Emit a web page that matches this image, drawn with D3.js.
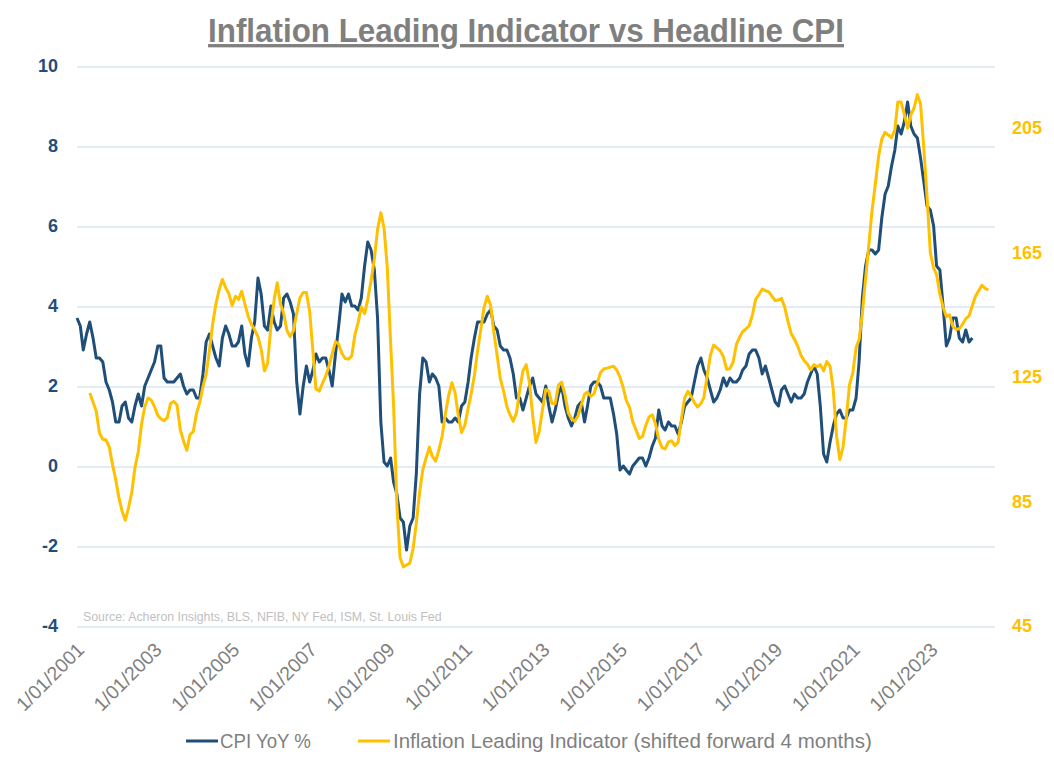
<!DOCTYPE html>
<html><head><meta charset="utf-8">
<script src="https://cdn.jsdelivr.net/npm/d3@7"></script>
<style>body{margin:0;background:#fff} svg{display:block}</style>
</head><body><svg id="c" width="1054" height="769"></svg>
<script>
// ---------- DATA ----------
const cpiStart = "2001-01-01";
const cpiValues = [
3.7,3.5,2.9,3.3,3.6,3.2,2.7,2.7,2.6,2.1,1.9,1.6,
1.1,1.1,1.5,1.6,1.2,1.1,1.5,1.8,1.5,2.0,2.2,2.4,
2.6,3.0,3.0,2.2,2.1,2.1,2.1,2.2,2.3,2.0,1.8,1.9,
1.9,1.7,1.7,2.3,3.1,3.3,3.0,2.7,2.5,3.2,3.5,3.3,
3.0,3.0,3.1,3.5,2.8,2.5,3.2,3.6,4.7,4.3,3.5,3.4,
4.0,3.6,3.4,3.5,4.2,4.3,4.1,3.8,2.1,1.3,2.0,2.5,
2.1,2.4,2.8,2.6,2.7,2.7,2.4,2.0,2.8,3.5,4.3,4.1,
4.3,4.0,4.0,3.9,4.2,5.0,5.6,5.4,4.9,3.7,1.1,0.1,
0.0,0.2,-0.4,-0.7,-1.3,-1.4,-2.1,-1.5,-1.3,-0.2,1.8,2.7,
2.6,2.1,2.3,2.2,2.0,1.1,1.2,1.1,1.1,1.2,1.1,1.5,
1.6,2.1,2.7,3.2,3.6,3.6,3.6,3.8,3.9,3.5,3.4,3.0,
2.9,2.9,2.7,2.3,1.7,1.7,1.4,1.7,2.0,2.2,1.8,1.7,
1.6,2.0,1.5,1.1,1.4,1.8,2.0,1.5,1.2,1.0,1.2,1.5,
1.6,1.1,1.5,2.0,2.1,2.1,2.0,1.7,1.7,1.7,1.3,0.8,
-0.1,0.0,-0.1,-0.2,0.0,0.1,0.2,0.2,0.0,0.2,0.5,0.7,
1.4,1.0,0.9,1.1,1.0,1.0,0.8,1.1,1.5,1.6,1.7,2.1,
2.5,2.7,2.4,2.2,1.9,1.6,1.7,1.9,2.2,2.0,2.2,2.1,
2.1,2.2,2.4,2.5,2.8,2.9,2.9,2.7,2.3,2.5,2.2,1.9,
1.6,1.5,1.9,2.0,1.8,1.6,1.8,1.7,1.7,1.8,2.1,2.3,
2.5,2.3,1.5,0.3,0.1,0.6,1.0,1.3,1.4,1.2,1.2,1.4,
1.4,1.7,2.6,4.2,5.0,5.4,5.4,5.3,5.4,6.2,6.8,7.0,
7.5,7.9,8.5,8.3,8.6,9.1,8.5,8.3,8.2,7.7,7.1,6.5,
6.4,6.0,5.0,4.9,4.0,3.0,3.2,3.7,3.7,3.2,3.1,3.4,
3.1,3.2
];
const leadStart = "2001-05-01";
const leadValues = [
119.9,117,114,107,105,104.8,102.5,97,
92,86,82,79,83,88,96,101,110,115.5,118.3,117.6,
115.5,112.7,111.6,111,112,116.5,117.2,116,108,104.5,101.5,106.5,
107.5,113.5,116.7,122,125.8,133.5,142,148.5,153.2,156.4,153.7,151.8,
148,151,150,152.6,148.5,144.5,142,140.2,138,134,127,129.5,
141.4,150,155.3,148.5,145.5,140,138,140,145.5,150.5,152.2,152.2,
146,133,121.2,120.5,123,125.3,128.5,132.5,136.4,135.6,132.6,131,
130.8,131.8,138.5,142.5,147.6,145.4,150,156,163,172.5,177.8,173,
160,136,116,84,67,64,64.6,65.2,70,78,88,95.2,
99,102.5,99.5,98,101.5,106,113,119,123.2,120,112.5,107.2,
109.5,115,119.5,125.5,133.5,140.5,147.5,151,148,139.5,132,124.5,
120.5,115.5,112.9,110.8,113.5,121,127,129,123,112.5,104,107.5,
114.5,121,120.5,116.5,116.5,122.5,123.4,119.3,113.5,111.7,110.8,112.5,
116,119.5,120.2,118.8,119.6,123,126.5,127.6,127.9,128.2,128.5,127.3,
125,121.5,117.5,115.3,110.6,108,105.3,106,109.5,112.2,112.9,110,
105,102.3,101.9,104.2,104.5,103,104,111.5,118.3,120.4,118.8,116.8,
115.4,116.5,118.5,125.5,132,135.3,134.4,133.5,131.5,127.5,127.7,129.8,
135.5,137.9,139.6,140.5,141.5,145,150,151.5,153.3,152.8,152.4,151,
149.6,149.8,150.3,147.5,143,139,137.2,135,132,130.3,129.1,127.3,
129,128.3,129,127,130,128.5,121,106,98.5,102.5,112,122.6,
126.3,134.5,137,145.5,156.5,167.5,178.5,187,196,201.5,203.7,202.8,
202,204.5,213.4,213.4,209.6,205,209.3,211.5,215.8,212.8,198.5,183,
165,160,158,151.7,147.5,144.4,145,141.3,140.3,140.6,142,143.8,
144.7,148,151,152.8,154.5,153.5,153
];
const leftTicks = [-4,-2,0,2,4,6,8,10];
const rightTicks = [45,85,125,165,205];
const xTickYears = [2001,2003,2005,2007,2009,2011,2013,2015,2017,2019,2021,2023];
const titleText = "Inflation Leading Indicator vs Headline CPI";
const seriesNames = ["CPI YoY %","Inflation Leading Indicator (shifted forward 4 months)"];
const sourceText = "Source: Acheron Insights, BLS, NFIB, NY Fed, ISM, St. Louis Fed";

// ---------- CHART ----------
const NAVY = "#1F4E79", GOLD = "#FFC000", GREY = "#7F7F7F";
const svg = d3.select("#c");
svg.append("rect").attr("width",1054).attr("height",769).attr("fill","#fff");

const L = 77, R = 995, T = 66, B = 626;
const x = d3.scaleTime().domain([new Date(2001,0,1), new Date(2024,8,1)]).range([L,R]);
const yL = d3.scaleLinear().domain([-4,10]).range([B,T]);
const yR = d3.scaleLinear().domain([45,225]).range([B,T]);

const parse = d3.timeParse("%Y-%m-%d");
const cpi = cpiValues.map((v,i)=>({d:d3.timeMonth.offset(parse(cpiStart),i), v}));
const lead = leadValues.map((v,i)=>({d:d3.timeMonth.offset(parse(leadStart),i), v}));

// gridlines (left axis)
const yAxisGrid = d3.axisLeft(yL).tickValues(leftTicks).tickSize(-(R-L)).tickFormat("");
const gGrid = svg.append("g").attr("transform",`translate(${L},0)`).call(yAxisGrid);
gGrid.select(".domain").remove();
gGrid.selectAll("line").attr("stroke","#C5DAEE").attr("stroke-width",1)
  .attr("transform","translate(0,0.5)");

// left axis labels
const gLeft = svg.append("g").attr("transform",`translate(${L},0)`)
  .call(d3.axisLeft(yL).tickValues(leftTicks).tickSize(0).tickPadding(19).tickFormat(d=>String(d)));
gLeft.select(".domain").remove();
gLeft.selectAll("text").attr("fill",NAVY).attr("font-family","Liberation Sans, Arial, sans-serif")
  .attr("font-size",18).attr("font-weight","bold");

// right axis labels
const gRight = svg.append("g").attr("transform",`translate(${R},0)`)
  .call(d3.axisRight(yR).tickValues(rightTicks).tickSize(0).tickPadding(17).tickFormat(d=>String(d)));
gRight.select(".domain").remove();
gRight.selectAll("text").attr("fill",GOLD).attr("font-family","Liberation Sans, Arial, sans-serif")
  .attr("font-size",18).attr("font-weight","bold");

// x axis labels
const fmt = d3.timeFormat("%-m/%d/%Y");
const gX = svg.append("g").attr("transform",`translate(0,${B})`)
  .call(d3.axisBottom(x).tickValues(xTickYears.map(yv=>new Date(yv,0,1))).tickSize(0).tickFormat(fmt));
gX.select(".domain").remove();
gX.selectAll("text")
  .attr("fill",GREY).attr("font-family","Liberation Sans, Arial, sans-serif").attr("font-size",19.5)
  .attr("text-anchor","end").attr("dy",null).attr("y",0)
  .attr("transform","translate(8,25) rotate(-45)");

// source
const src = svg.append("text").text(sourceText).attr("x",0).attr("y",0)
  .attr("fill","#BFBFBF").attr("font-family","Liberation Sans, Arial, sans-serif").attr("font-size",13);
fitW(src, 359, 83, 621, "start");

// lines
const line = (ys)=>d3.line().x(d=>x(d.d)).y(d=>ys(d.v));
svg.append("path").datum(cpi).attr("d",line(yL)).attr("fill","none")
  .attr("stroke",NAVY).attr("stroke-width",3).attr("stroke-linejoin","round");
svg.append("path").datum(lead).attr("d",line(yR)).attr("fill","none")
  .attr("stroke",GOLD).attr("stroke-width",3).attr("stroke-linejoin","round");

// title
const ttl = svg.append("text").text(titleText).attr("fill",GREY)
  .attr("font-family","Liberation Sans Narrow, Arial Narrow, Liberation Sans, Arial, sans-serif")
  .attr("font-size",33).attr("font-weight","bold").style("text-decoration","underline");
fitW(ttl, 636, 526, 42, "middle");

// legend
const legY = 741;
svg.append("line").attr("x1",186).attr("x2",218).attr("y1",legY).attr("y2",legY).attr("stroke",NAVY).attr("stroke-width",3);
svg.append("line").attr("x1",358).attr("x2",390).attr("y1",legY).attr("y2",legY).attr("stroke",GOLD).attr("stroke-width",3);
const lt1 = svg.append("text").text(seriesNames[0]).attr("fill",GREY)
  .attr("font-family","Liberation Sans Narrow, Arial Narrow, Liberation Sans, Arial, sans-serif").attr("font-size",20);
fitW(lt1, 91, 220, legY+7, "start");
const lt2 = svg.append("text").text(seriesNames[1]).attr("fill",GREY)
  .attr("font-family","Liberation Sans Narrow, Arial Narrow, Liberation Sans, Arial, sans-serif").attr("font-size",20);
fitW(lt2, 479, 393, legY+7, "start");

function fitW(sel, target, tx, ty, anchor){
  sel.attr("text-anchor",anchor).attr("x",0).attr("y",0);
  const w = sel.node().getComputedTextLength();
  sel.attr("transform",`translate(${tx},${ty}) scale(${target/w},1)`);
}
</script></body></html>
